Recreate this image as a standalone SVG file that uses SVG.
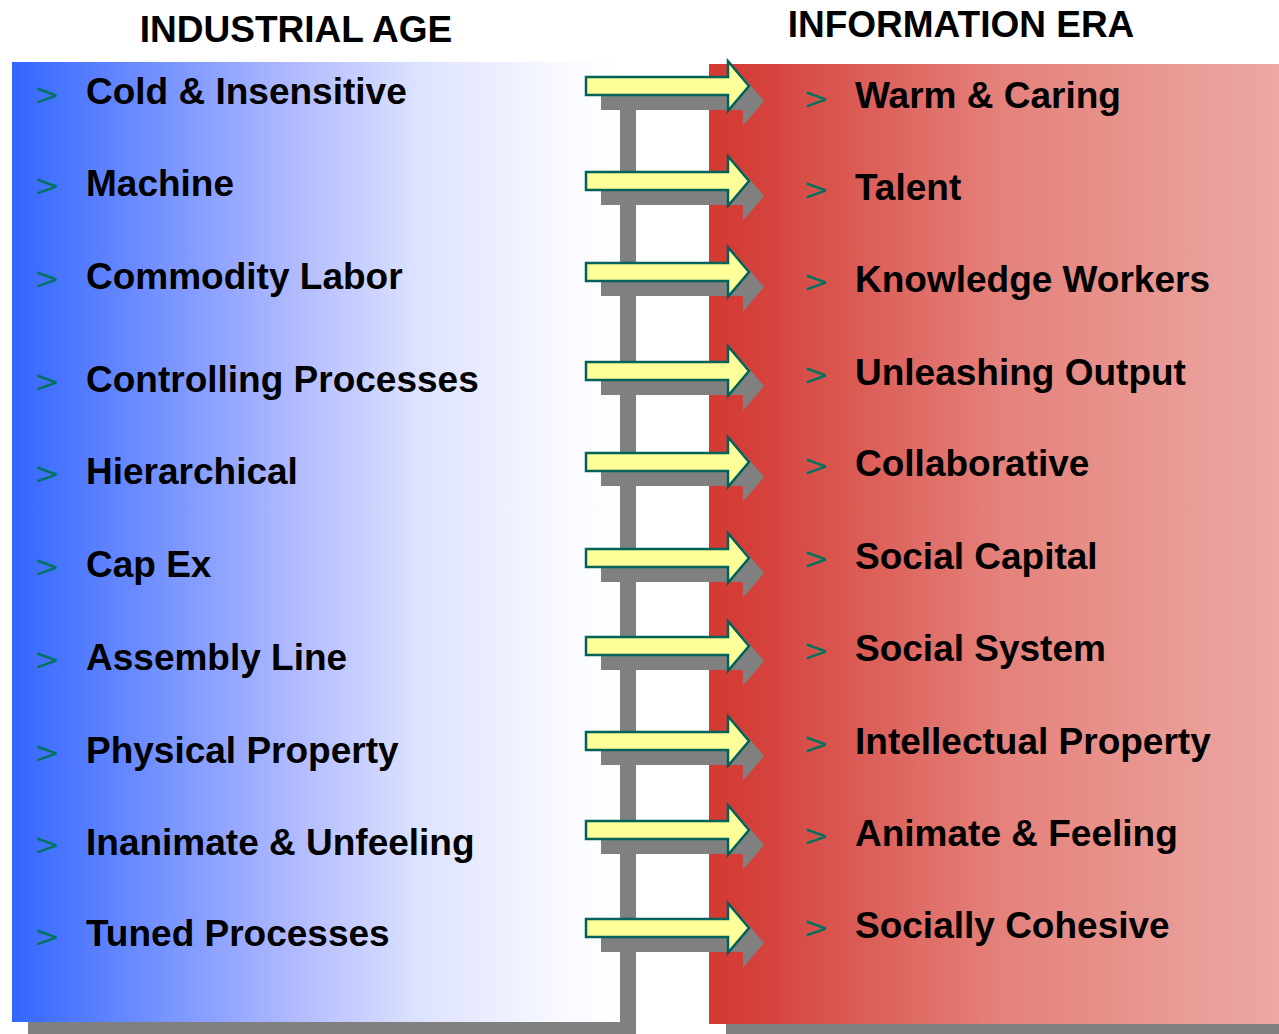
<svg xmlns="http://www.w3.org/2000/svg" width="1279" height="1034" viewBox="0 0 1279 1034">
  <style>
    .hdr { font-family: "Liberation Sans", Arial, sans-serif; font-weight: bold; font-size: 37px; fill: #000; }
    .item { font-family: "Liberation Sans", Arial, sans-serif; font-weight: bold; font-size: 37px; fill: #000; }
    .bul { font-family: "DejaVu Sans", sans-serif; font-size: 31px; fill: #00735E; }
    .shadow { fill: #808080; }
    .arrow { fill: #FFFF99; stroke: #00625A; stroke-width: 2.5; stroke-linejoin: miter; }
  </style>
  <defs>
    <linearGradient id="gradOld" x1="12" y1="0" x2="620" y2="0" gradientUnits="userSpaceOnUse">
      <stop offset="0" stop-color="#3366FF"/>
      <stop offset="0.47" stop-color="#B2BBFF"/>
      <stop offset="0.67" stop-color="#DDE2FF"/>
      <stop offset="0.9" stop-color="#F8F9FF"/>
      <stop offset="1" stop-color="#FFFFFF"/>
    </linearGradient>
    <linearGradient id="gradNew" x1="709" y1="0" x2="1279" y2="0" gradientUnits="userSpaceOnUse">
      <stop offset="0" stop-color="#D33A31"/>
      <stop offset="0.08" stop-color="#D4403A"/>
      <stop offset="0.5" stop-color="#E48079"/>
      <stop offset="1" stop-color="#ECA9A4"/>
    </linearGradient>
    <!-- block arrow, centred on y = 0 -->
    <path id="arrowShape" d="M586,-9 L728,-9 L728,-24.8 L749,0 L728,24.8 L728,9 L586,9 Z"/>
  </defs>

  <rect width="1279" height="1034" fill="#FFFFFF"/>

  <!-- panels -->
  <g id="panel-information-era">
    <rect class="shadow" x="726" y="80" width="553" height="954"/>
    <rect x="709" y="64" width="570" height="960" fill="url(#gradNew)"/>
  </g>
  <g id="panel-industrial-age">
    <rect class="shadow" x="28" y="90" width="608" height="944"/>
    <rect x="12" y="62" width="608" height="960" fill="url(#gradOld)"/>
  </g>

  <!-- headings -->
  <text class="hdr" x="296" y="42" text-anchor="middle">INDUSTRIAL AGE</text>
  <text class="hdr" x="961" y="37" text-anchor="middle">INFORMATION ERA</text>

  <!-- connectors: shadowed block arrows -->
  <g id="connectors">
    <g id="arrow-shadows" class="shadow">
      <use href="#arrowShape" transform="translate(15,101)"/>
      <use href="#arrowShape" transform="translate(15,196)"/>
      <use href="#arrowShape" transform="translate(15,287)"/>
      <use href="#arrowShape" transform="translate(15,386)"/>
      <use href="#arrowShape" transform="translate(15,477)"/>
      <use href="#arrowShape" transform="translate(15,573)"/>
      <use href="#arrowShape" transform="translate(15,661)"/>
      <use href="#arrowShape" transform="translate(15,756)"/>
      <use href="#arrowShape" transform="translate(15,845)"/>
      <use href="#arrowShape" transform="translate(15,943)"/>
    </g>
    <g id="arrows" class="arrow">
      <use href="#arrowShape" transform="translate(0,86)"/>
      <use href="#arrowShape" transform="translate(0,181)"/>
      <use href="#arrowShape" transform="translate(0,272)"/>
      <use href="#arrowShape" transform="translate(0,371)"/>
      <use href="#arrowShape" transform="translate(0,462)"/>
      <use href="#arrowShape" transform="translate(0,558)"/>
      <use href="#arrowShape" transform="translate(0,646)"/>
      <use href="#arrowShape" transform="translate(0,741)"/>
      <use href="#arrowShape" transform="translate(0,830)"/>
      <use href="#arrowShape" transform="translate(0,928)"/>
    </g>
  </g>

  <!-- industrial age items -->
  <g id="old-1"><text class="bul" x="34" y="105">&gt;</text><text class="item" x="86" y="104">Cold &amp; Insensitive</text></g>
  <g id="old-2"><text class="bul" x="34" y="196">&gt;</text><text class="item" x="86" y="196">Machine</text></g>
  <g id="old-3"><text class="bul" x="34" y="289">&gt;</text><text class="item" x="86" y="289">Commodity Labor</text></g>
  <g id="old-4"><text class="bul" x="34" y="392">&gt;</text><text class="item" x="86" y="392">Controlling Processes</text></g>
  <g id="old-5"><text class="bul" x="34" y="484">&gt;</text><text class="item" x="86" y="484">Hierarchical</text></g>
  <g id="old-6"><text class="bul" x="34" y="577">&gt;</text><text class="item" x="86" y="577">Cap Ex</text></g>
  <g id="old-7"><text class="bul" x="34" y="670">&gt;</text><text class="item" x="86" y="670">Assembly Line</text></g>
  <g id="old-8"><text class="bul" x="34" y="763">&gt;</text><text class="item" x="86" y="763">Physical Property</text></g>
  <g id="old-9"><text class="bul" x="34" y="855">&gt;</text><text class="item" x="86" y="855">Inanimate &amp; Unfeeling</text></g>
  <g id="old-10"><text class="bul" x="34" y="947">&gt;</text><text class="item" x="86" y="946">Tuned Processes</text></g>

  <!-- information era items -->
  <g id="new-1"><text class="bul" x="803" y="109">&gt;</text><text class="item" x="855" y="108">Warm &amp; Caring</text></g>
  <g id="new-2"><text class="bul" x="803" y="200">&gt;</text><text class="item" x="855" y="200">Talent</text></g>
  <g id="new-3"><text class="bul" x="803" y="292">&gt;</text><text class="item" x="855" y="292">Knowledge Workers</text></g>
  <g id="new-4"><text class="bul" x="803" y="385">&gt;</text><text class="item" x="855" y="385">Unleashing Output</text></g>
  <g id="new-5"><text class="bul" x="803" y="476">&gt;</text><text class="item" x="855" y="476">Collaborative</text></g>
  <g id="new-6"><text class="bul" x="803" y="569">&gt;</text><text class="item" x="855" y="569">Social Capital</text></g>
  <g id="new-7"><text class="bul" x="803" y="661">&gt;</text><text class="item" x="855" y="661">Social System</text></g>
  <g id="new-8"><text class="bul" x="803" y="754">&gt;</text><text class="item" x="855" y="754">Intellectual Property</text></g>
  <g id="new-9"><text class="bul" x="803" y="846">&gt;</text><text class="item" x="855" y="846">Animate &amp; Feeling</text></g>
  <g id="new-10"><text class="bul" x="803" y="938">&gt;</text><text class="item" x="855" y="938">Socially Cohesive</text></g>
</svg>
